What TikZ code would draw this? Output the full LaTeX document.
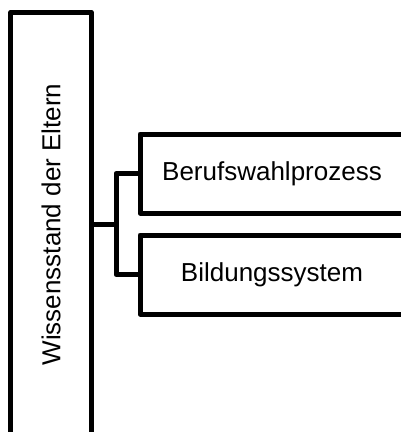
\documentclass[tikz,border=0pt]{standalone}
\usepackage{fontspec}
\setmainfont{Liberation Sans}
\usepackage{graphicx}
\begin{document}
\begin{tikzpicture}[x=1pt,y=-1pt,
    every node/.style={font=\fontsize{26}{31}\selectfont},
    frame/.style={draw=black, line width=5pt, line join=round, fill=white,
      rectangle, outer sep=0pt, inner sep=0pt},
    link/.style={draw=black, line width=5pt, line join=round}]
  \useasboundingbox[fill=white] (0,0) rectangle (401,432);
  % tall box on the left with vertical caption
  \node[frame, minimum width=80.2pt, minimum height=425pt] (eltern) at (51,224.5)
    {\rotatebox{90}{Wissensstand der Eltern}};
  % the two topic boxes on the right
  \node[frame, minimum width=264pt, minimum height=79pt] (beruf) at (272,173.5)
    {Berufswahlprozess};
  \node[frame, minimum width=264pt, minimum height=79pt] (bildung) at (272,274.5)
    {Bildungssystem};
  % bracket connector
  \coordinate (junction) at (116,224.5);
  \draw[link] (eltern.east) -- (junction);
  \draw[link] (beruf.west) -| (junction) |- (bildung.west);
\end{tikzpicture}
\end{document}
